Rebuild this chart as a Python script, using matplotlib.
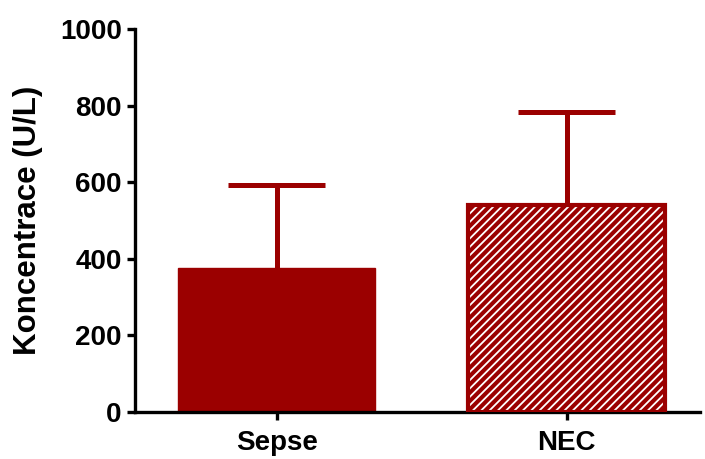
import matplotlib
matplotlib.use("Agg")
import matplotlib.pyplot as plt

# group means and upper SD (U/L)
groups = ["Sepse", "NEC"]
means = [376, 540]
sd = [217, 244]
hatches = ["", "////"]

red = "#9b0000"

plt.rcParams['font.family'] = ['Liberation Sans', 'DejaVu Sans']
plt.rcParams['font.weight'] = 'bold'
plt.rcParams['hatch.linewidth'] = 1.3
plt.rcParams['hatch.color'] = 'white'

fig = plt.figure(figsize=(7.05, 4.59), dpi=100)
ax = fig.add_axes([0.1915, 0.1024, 0.801, 0.834])

x = list(range(len(groups)))
bw = 0.68
cap = 0.335

# upper error bars only (stem + cap)
tops = [m + s for m, s in zip(means, sd)]
ax.vlines(x, means, tops, color=red, linewidth=3.6, zorder=1)
ax.hlines(tops, [xi - cap / 2 for xi in x], [xi + cap / 2 for xi in x],
          color=red, linewidth=3.6, zorder=1)

for xi, m, h in zip(x, means, hatches):
    if h:
        ax.bar(xi, m, width=bw, color=red, edgecolor="white", hatch=h, linewidth=0, zorder=2)
        ax.bar(xi, m, width=bw, fill=False, edgecolor=red, linewidth=3, zorder=3)
    else:
        ax.bar(xi, m, width=bw, color=red, edgecolor=red, linewidth=1, zorder=2)

ax.set_xlim(-0.49, 1.46)
ax.set_ylim(0, 1000)
ax.set_yticks([0, 200, 400, 600, 800, 1000])
ax.set_xticks(x)
ax.set_xticklabels(groups)
ax.set_ylabel("Koncentrace (U/L)", fontsize=22.5, fontweight="bold", labelpad=12)

ax.spines["top"].set_visible(False)
ax.spines["right"].set_visible(False)
ax.spines["left"].set_linewidth(2.4)
ax.spines["bottom"].set_linewidth(2.4)
ax.tick_params(axis="both", width=2.4, length=6, labelsize=20)
ax.tick_params(axis="x", pad=7)

plt.savefig("out.png", dpi=100)
